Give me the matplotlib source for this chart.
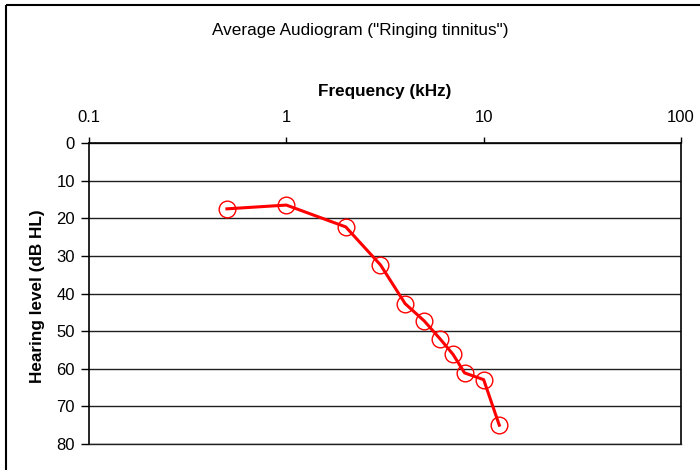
import matplotlib
matplotlib.use("Agg")
import matplotlib.pyplot as plt
from matplotlib.lines import Line2D
from matplotlib.ticker import FixedLocator, NullLocator

plt.rcParams['font.family'] = ['Liberation Sans', 'DejaVu Sans']

# average hearing thresholds
freq_khz = [0.5, 1, 2, 3, 4, 5, 6, 7, 8, 10, 12]
hearing_db = [17.5, 16.5, 22.3, 32.4, 42.7, 47.3, 52.0, 56.2, 61.1, 62.9, 75.0]

x_ticks = [0.1, 1, 10, 100]
x_tick_labels = ["0.1", "1", "10", "100"]
y_ticks = [0, 10, 20, 30, 40, 50, 60, 70, 80]

W, H = 700, 470
fig = plt.figure(figsize=(W / 100, H / 100), dpi=100)
ax = fig.add_axes([89 / W, 1 - 444 / H, (681 - 89) / W, (444 - 143) / H])

# outer chart frame (top and left edges, the rest runs off the page)
fig.add_artist(Line2D([6 / W, 1.05], [1 - 5 / H, 1 - 5 / H], transform=fig.transFigure,
                      color='black', linewidth=1.5, solid_capstyle='butt'))
fig.add_artist(Line2D([6 / W, 6 / W], [-0.05, 1 - 5 / H], transform=fig.transFigure,
                      color='black', linewidth=1.5, solid_capstyle='butt'))

ax.plot(freq_khz, hearing_db, color='#ff0000', linewidth=2.2,
        marker='o', markersize=12, markerfacecolor='none',
        markeredgecolor='#ff0000', markeredgewidth=1, zorder=3)

ax.set_xscale('log')
ax.set_xlim(0.1, 100)
ax.set_ylim(80, 0)
ax.xaxis.set_major_locator(FixedLocator(x_ticks))
ax.xaxis.set_minor_locator(NullLocator())
ax.set_xticklabels(x_tick_labels)
ax.set_yticks(y_ticks)

ax.xaxis.tick_top()
ax.xaxis.set_label_position('top')
ax.tick_params(axis='x', which='major', direction='out', length=4, width=1,
               pad=9, labelsize=12, colors='black')
ax.tick_params(axis='y', direction='out', length=6, width=1, pad=4,
               labelsize=12)

ax.grid(axis='y', color='#202020', linewidth=1)
ax.grid(axis='x', visible=False)
for side in ['left', 'top', 'right']:
    ax.spines[side].set_color('black')
    ax.spines[side].set_linewidth(1.2)
ax.spines['bottom'].set_color('#202020')
ax.spines['bottom'].set_linewidth(1)

ax.set_xlabel("Frequency (kHz)", fontsize=12.3, fontweight='bold', labelpad=10)
ax.set_ylabel("Hearing level (dB HL)", fontsize=12.3, fontweight='bold')
ax.yaxis.set_label_coords(-0.0743, 0.49)

fig.text(360 / W, 1 - 31 / H, 'Average Audiogram ("Ringing tinnitus")',
         ha='center', va='center', fontsize=12.3)

fig.savefig("out.png", dpi=100)
